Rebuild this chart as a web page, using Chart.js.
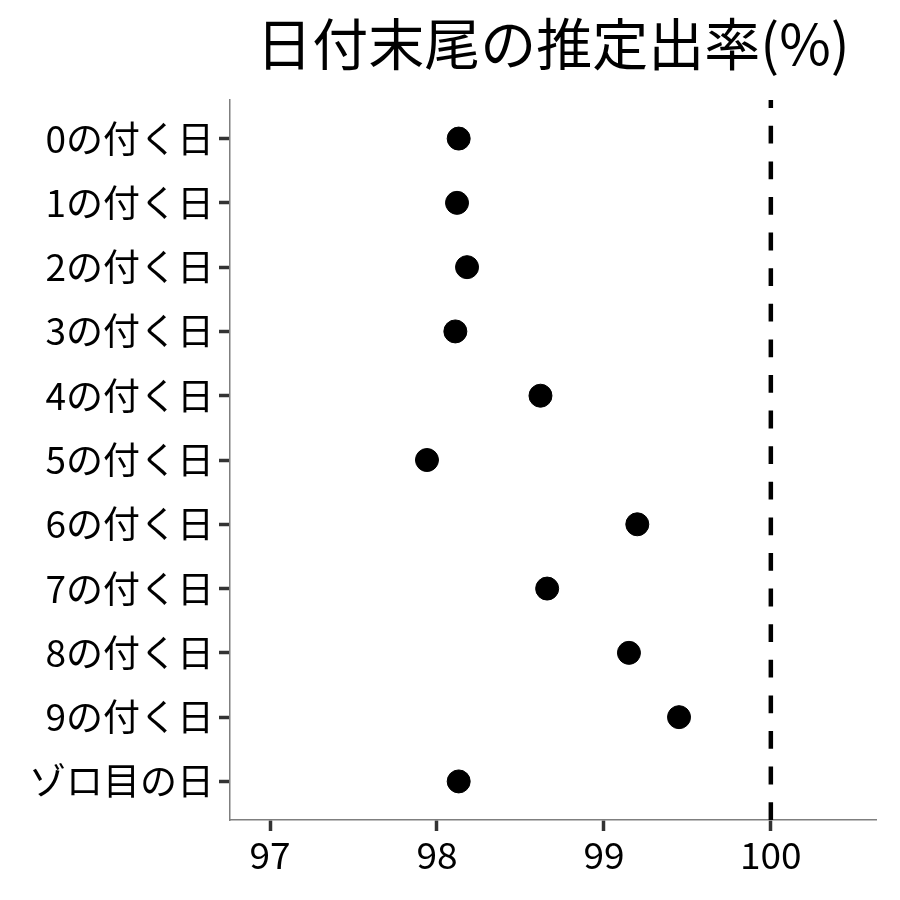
<!DOCTYPE html>
<html>
<head>
<meta charset="utf-8">
<script src="https://cdn.jsdelivr.net/npm/chart.js@4"></script>
<style>
  body { margin: 0; background: #fff; }
  #wrap { width: 900px; height: 900px; }
</style>
</head>
<body>
<div id="wrap"><canvas id="rateChart"></canvas></div>
<script>
// Dot chart – estimated rate by last digit of the date

const chartTitle = '日付末尾の推定出率(%)';
const categories = ['0の付く日', '1の付く日', '2の付く日', '3の付く日', '4の付く日',
    '5の付く日', '6の付く日', '7の付く日', '8の付く日', '9の付く日', 'ゾロ目の日'];
const rates = [98.13, 98.12, 98.18, 98.11, 98.62, 97.94, 99.20, 98.66, 99.15, 99.45, 98.13];
const xTicks = [97, 98, 99, 100];
const refLine = 100;

const FONT = "'Noto Sans CJK JP', 'Noto Sans', sans-serif";

// Title centred over the plot panel (not the whole canvas)
const panelTitle = {
    id: 'panelTitle',
    afterDraw(chart) {
        const ctx = chart.ctx;
        const area = chart.chartArea;
        ctx.save();
        ctx.font = '56px ' + FONT;
        ctx.fillStyle = '#000';
        ctx.textAlign = 'center';
        ctx.textBaseline = 'middle';
        ctx.fillText(chartTitle, (area.left + area.right) / 2, 44);
        ctx.restore();
    }
};

const ctx = document.getElementById('rateChart').getContext('2d');

new Chart(ctx, {
    type: 'scatter',
    data: {
        datasets: [
            {
                type: 'line',
                data: [{ x: refLine, y: 10.6 }, { x: refLine, y: -0.6 }],
                borderColor: '#000',
                borderWidth: 4.5,
                borderDash: [17.8, 17.8],
                pointRadius: 0,
                fill: false
            },
            {
                data: rates.map((r, i) => ({ x: r, y: i })),
                backgroundColor: '#000',
                borderColor: '#000',
                pointRadius: 11.5,
                pointHoverRadius: 11.5
            }
        ]
    },
    options: {
        responsive: true,
        maintainAspectRatio: false,
        animation: false,
        layout: { padding: { top: 100, right: 24, left: 0, bottom: 0 } },
        plugins: { legend: { display: false }, tooltip: { enabled: false } },
        scales: {
            x: {
                type: 'linear',
                min: 96.76,
                max: 100.63,
                afterBuildTicks: s => { s.ticks = xTicks.map(v => ({ value: v })); },
                afterFit: s => { s.height = 80; },
                grid: { drawOnChartArea: false, tickLength: 11, tickColor: '#333', tickWidth: 3.5 },
                border: { color: '#7f7f7f', width: 1.5 },
                ticks: { color: '#000', font: { family: FONT, size: 37 }, padding: 2, maxRotation: 0 }
            },
            y: {
                type: 'linear',
                reverse: true,
                min: -0.6,
                max: 10.6,
                afterBuildTicks: s => { s.ticks = categories.map((c, i) => ({ value: i })); },
                afterFit: s => { s.width = 230; },
                grid: { drawOnChartArea: false, tickLength: 11, tickColor: '#333', tickWidth: 3.5 },
                border: { color: '#7f7f7f', width: 1.5 },
                ticks: {
                    color: '#000',
                    font: { family: FONT, size: 37 },
                    padding: 5,
                    callback: v => categories[v]
                }
            }
        }
    },
    plugins: [panelTitle]
});
</script>
</body>
</html>
